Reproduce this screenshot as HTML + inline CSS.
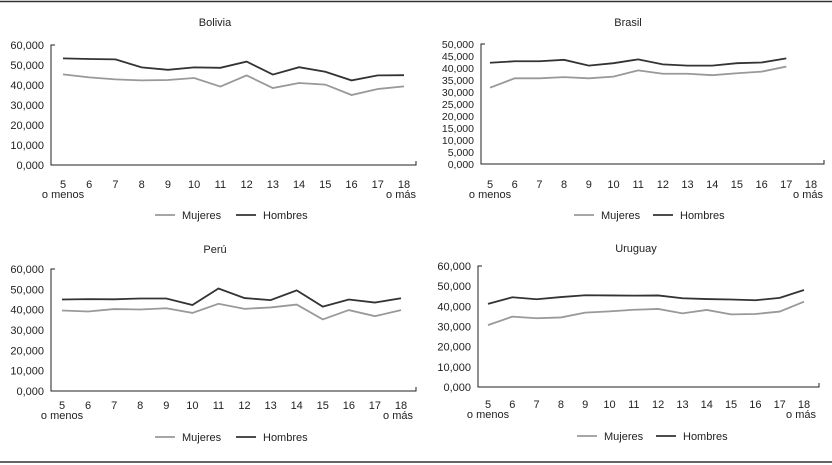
<!DOCTYPE html>
<html><head><meta charset="utf-8"><style>
body{margin:0;background:#fff;}
svg{display:block;font-family:"Liberation Sans",sans-serif;}
</style></head><body>
<svg id="c" width="832" height="465">
<line x1="0" y1="1.5" x2="832" y2="1.5" stroke="#333" stroke-width="1.5"/>
<line x1="0" y1="462" x2="832" y2="462" stroke="#333" stroke-width="1.5"/>
</svg>
<script>
const categories=["5","6","7","8","9","10","11","12","13","14","15","16","17","18"];
const boliviaMujeres=[45.3,43.8,42.8,42.3,42.5,43.5,39.2,44.8,38.5,41,40.2,35,38,39.3];
const boliviaHombres=[53.3,53,52.8,48.8,47.6,48.8,48.6,51.7,45.2,48.9,46.6,42.3,44.8,44.9];
const brasilMujeres=[31.8,35.7,35.7,36.2,35.7,36.4,39,37.6,37.6,37,37.8,38.5,40.6];
const brasilHombres=[42.2,42.8,42.8,43.4,41,42,43.6,41.5,41,41,42,42.3,44];
const peruMujeres=[39.6,39.1,40.3,40.1,40.7,38.4,42.9,40.4,41.1,42.5,35.2,39.8,36.8,39.8];
const peruHombres=[45,45.2,45.1,45.5,45.5,42.3,50.4,45.7,44.7,49.5,41.5,45,43.5,45.6];
const uruguayMujeres=[30.7,34.9,34.1,34.5,36.9,37.5,38.3,38.7,36.5,38.2,36,36.2,37.4,42.3];
const uruguayHombres=[41.2,44.5,43.5,44.6,45.5,45.4,45.3,45.4,44,43.6,43.4,43,44.2,48.1];
const ticks60=["0,000","10,000","20,000","30,000","40,000","50,000","60,000"];
const ticks50=["0,000","5,000","10,000","15,000","20,000","25,000","30,000","35,000","40,000","45,000","50,000"];

const svg=document.getElementById('c');
const NS='http://www.w3.org/2000/svg';
function mk(tag,attrs,parent){const e=document.createElementNS(NS,tag);for(const k in attrs)e.setAttribute(k,attrs[k]);(parent||svg).appendChild(e);return e;}

const panels=[
 {name:'bolivia',title:'Bolivia',tx:215,ty:26,ax:51,ar:416,y0:165,y1:45,max:60,ticks:ticks60,x0:63,x18:404,ly:184,leg:437-222,lm:155,lh:236,m:boliviaMujeres,h:boliviaHombres,fs:11},
 {name:'brasil',title:'Brasil',tx:628,ty:26,ax:481,ar:824,y0:164,y1:44,max:50,ticks:ticks50,x0:490,x18:811,ly:184,leg:215,lm:574,lh:653,m:brasilMujeres,h:brasilHombres,fs:10.5},
 {name:'peru',title:'Perú',tx:215,ty:253,ax:51,ar:416,y0:391,y1:269,max:60,ticks:ticks60,x0:62,x18:401,ly:405,leg:437,lm:155,lh:236,m:peruMujeres,h:peruHombres,fs:11},
 {name:'uruguay',title:'Uruguay',tx:636,ty:252,ax:478,ar:819,y0:387,y1:266,max:60,ticks:ticks60,x0:488,x18:804,ly:404,leg:436,lm:577,lh:656,m:uruguayMujeres,h:uruguayHombres,fs:11}
];
panels.forEach(p=>{
 const g=mk('g',{});
 
 
 const yS=v=>p.y0-(v/p.max)*(p.y0-p.y1);
 const xS=i=>p.x0+i*(p.x18-p.x0)/13;
 const t=mk('text',{x:p.tx,y:p.ty,'text-anchor':'middle','font-size':11,fill:'#222'},g);t.textContent=p.title;
 
 
 const ax=mk('path',{d:`M${p.ax+4} ${p.y1}H${p.ax}V${p.y0}H${p.ar}V${p.y0-4}`,fill:'none',stroke:'#222','stroke-width':1},g);
 
 
 p.ticks.forEach((lab,i)=>{
  const v=i*p.max/(p.ticks.length-1);
  const tl=mk('text',{x:p.ax-7,y:yS(v)+4,'text-anchor':'end','font-size':p.fs,fill:'#222'},g);tl.textContent=lab;
  
  
 });
 categories.forEach((c,i)=>{
  const tl=mk('text',{x:xS(i),y:p.ly+4,'text-anchor':'middle','font-size':11,fill:'#222'},g);tl.textContent=c;
  
  
 });
 const a=mk('text',{x:xS(0),y:p.ly+14,'text-anchor':'middle','font-size':11,fill:'#222'},g);a.textContent='o menos';
 
 
 const b=mk('text',{x:xS(13)-3,y:p.ly+14,'text-anchor':'middle','font-size':11,fill:'#222'},g);b.textContent='o más';
 
 
 [[p.m,'#999','mujeres'],[p.h,'#333','hombres']].forEach(([d,col,n])=>{
  const pl=mk('polyline',{points:d.map((v,i)=>xS(i)+','+yS(v)).join(' '),fill:'none',stroke:col,'stroke-width':1.8},g);
  
  
 });
 [[p.lm,'#999','Mujeres'],[p.lh,'#333','Hombres']].forEach(([x,col,lab])=>{
  const lg=mk('g',{},g);
  
  
  mk('line',{x1:x,y1:p.leg,x2:x+20,y2:p.leg,stroke:col,'stroke-width':1.8},lg);
  const lt=mk('text',{x:x+27,y:p.leg+4,'font-size':11,fill:'#222'},lg);lt.textContent=lab;
 });
});
</script>
</body></html>
